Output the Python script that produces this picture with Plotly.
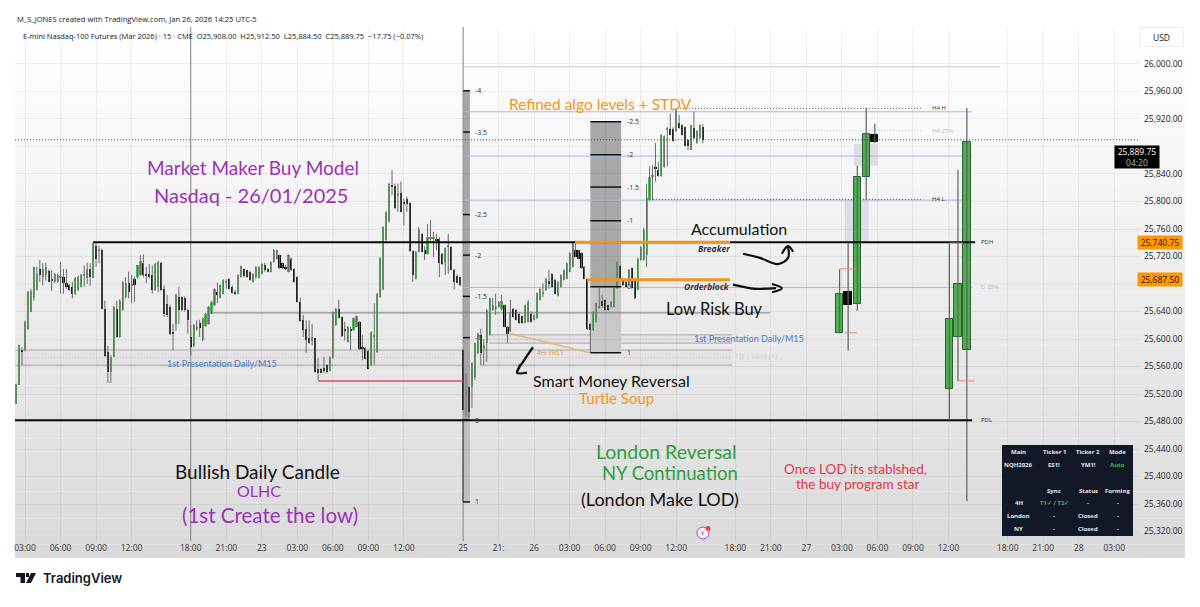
import plotly.graph_objects as go

# 15 minute bars
opens = [25506,25533,25584,25584,25615,25639,25660,25672,25702,25690,
    25693,25699,25686,25683,25683,25690,25690,25681,25678,25676,
    25665,25671,25676,25692,25689,25702,25689,25736,25728,25729,
    25644,25581,25552,25574,25644,25603,25642,25661,25681,25678,
    25688,25690,25693,25711,25694,25695,25693,25671,25675,25710,
    25673,25651,25647,25609,25622,25661,25661,25660,25642,25603,
    25590,25615,25623,25598,25619,25622,25637,25649,25668,25660,
    25666,25682,25687,25676,25669,25666,25690,25702,25700,25698,
    25683,25690,25689,25695,25707,25702,25698,25712,25717,25722,
    25710,25705,25698,25717,25702,25690,25654,25627,25614,25601,
    25597,25601,25557,25557,25558,25562,25554,25572,25620,25644,
    25632,25615,25596,25615,25613,25618,25625,25588,25587,25583,
    25562,25604,25581,25661,25672,25744,25770,25824,25822,25808,
    25812,25799,25804,25798,25728,25688,25727,25753,25729,25724,
    25746,25745,25745,25746,25724,25710,25735,25734,25701,25692,
    25690,25584,25520,25530,25530,25545,25579,25606,25586,25594,
    25606,25642,25645,25647,25643,25649,25618,25611,25644,25642,
    25637,25633,25624,25625,25637,25628,25630,25657,25665,25671,
    25685,25695,25686,25663,25676,25686,25688,25698,25705,25729,
    25729,25725,25705,25687,25622,25613,25625,25645,25656,25657,
    25649,25647,25647,25674,25706,25688,25683,25678,25703,25688,
    25672,25715,25715,25722,25802,25835,25850,25846,25837,25850,
    25905,25905,25905,25902,25914,25911,25908,25890,25875,25907,
    25885,25892,25908]
highs = [25535,25592,25588,25627,25670,25673,25705,25705,25715,25710,
    25711,25701,25700,25696,25695,25712,25702,25702,25680,25683,
    25690,25692,25695,25707,25711,25710,25739,25739,25736,25731,
    25656,25590,25576,25648,25656,25658,25684,25690,25698,25693,
    25690,25708,25722,25723,25705,25709,25707,25711,25714,25712,
    25678,25664,25650,25622,25666,25676,25662,25662,25644,25620,
    25622,25627,25628,25631,25638,25648,25655,25674,25682,25679,
    25687,25687,25688,25678,25671,25694,25707,25703,25701,25699,
    25696,25706,25706,25710,25711,25703,25713,25731,25730,25723,
    25711,25708,25723,25718,25703,25691,25660,25635,25627,25627,
    25622,25602,25572,25558,25574,25563,25575,25640,25645,25657,
    25633,25625,25619,25618,25631,25634,25626,25606,25588,25584,
    25611,25652,25667,25719,25764,25786,25827,25846,25826,25826,
    25829,25804,25807,25799,25729,25728,25763,25754,25735,25767,
    25773,25756,25753,25748,25725,25733,25753,25735,25702,25694,
    25691,25585,25550,25531,25566,25595,25609,25615,25600,25643,
    25660,25660,25666,25655,25664,25650,25619,25657,25645,25643,
    25638,25634,25650,25657,25640,25636,25668,25674,25681,25689,
    25700,25696,25687,25684,25694,25701,25711,25726,25740,25739,
    25730,25726,25706,25688,25623,25641,25653,25674,25664,25658,
    25650,25655,25675,25713,25707,25689,25686,25702,25704,25689,
    25718,25735,25762,25826,25851,25853,25885,25858,25898,25896,
    25909,25928,25908,25935,25926,25912,25909,25891,25912,25931,
    25904,25912,25912.5]
lows = [25506,25533,25562,25582,25613,25639,25656,25671,25683,25678,
    25685,25683,25670,25682,25682,25666,25666,25673,25670,25659,
    25664,25670,25675,25676,25680,25677,25689,25705,25710,25644,
    25574,25536,25536,25574,25602,25602,25641,25659,25659,25652,
    25654,25688,25692,25690,25681,25688,25666,25670,25668,25670,
    25632,25632,25606,25584,25612,25622,25640,25640,25608,25576,
    25588,25612,25603,25597,25618,25621,25636,25648,25652,25659,
    25665,25673,25672,25666,25664,25665,25689,25690,25689,25685,
    25682,25687,25688,25694,25698,25697,25697,25711,25716,25702,
    25702,25700,25697,25699,25682,25653,25625,25603,25580,25593,
    25591,25551,25540,25550,25550,25550,25553,25571,25619,25630,
    25603,25598,25595,25584,25612,25617,25584,25569,25570,25557,
    25561,25563,25580,25660,25672,25743,25770,25809,25789,25785,
    25784,25765,25785,25727,25683,25687,25726,25726,25715,25723,
    25743,25719,25729,25690,25708,25693,25695,25700,25672,25681,
    25677,25496,25487,25486,25500,25540,25578,25562,25562,25567,
    25605,25641,25635,25646,25641,25617,25594,25610,25631,25627,
    25622,25622,25623,25624,25624,25627,25629,25656,25661,25670,
    25673,25675,25665,25662,25675,25685,25687,25697,25704,25719,
    25716,25702,25687,25613,25580,25612,25624,25644,25645,25641,
    25641,25646,25646,25673,25685,25677,25675,25677,25673,25658,
    25671,25714,25714,25705,25801,25802,25829,25836,25836,25849,
    25851,25896,25887,25901,25906,25896,25880,25875,25875,25891,
    25884,25891,25884.5]
closes = [25535,25591,25582,25625,25668,25670,25705,25695,25693,25702,
    25705,25683,25685,25695,25693,25692,25681,25676,25671,25666,
    25689,25690,25693,25694,25702,25690,25739,25716,25730,25644,
    25576,25552,25574,25647,25603,25656,25683,25681,25668,25680,
    25678,25707,25714,25693,25692,25690,25671,25709,25712,25671,
    25637,25635,25607,25608,25664,25642,25642,25642,25627,25588,
    25620,25617,25616,25630,25637,25647,25654,25673,25664,25678,
    25686,25683,25673,25667,25665,25693,25706,25691,25690,25686,
    25695,25705,25705,25709,25700,25698,25712,25730,25729,25703,
    25703,25703,25722,25700,25683,25654,25626,25613,25598,25594,
    25603,25552,25550,25551,25553,25552,25574,25639,25644,25631,
    25604,25613,25618,25612,25630,25633,25585,25586,25571,25557,
    25610,25606,25666,25718,25763,25785,25826,25821,25790,25811,
    25785,25797,25797,25728,25693,25727,25760,25727,25723,25748,
    25748,25748,25743,25710,25709,25732,25736,25701,25683,25682,
    25678,25497,25523,25494,25565,25594,25608,25579,25592,25642,
    25659,25649,25647,25654,25656,25618,25608,25640,25632,25628,
    25623,25623,25649,25654,25625,25635,25667,25673,25668,25688,
    25680,25676,25666,25683,25693,25700,25710,25725,25739,25720,
    25717,25703,25688,25614,25613,25640,25652,25648,25648,25642,
    25642,25654,25674,25712,25686,25678,25676,25701,25674,25659,
    25717,25734,25758,25805,25836,25838,25848,25837,25897,25895,
    25906,25897,25888,25935,25907,25897,25881,25880,25911,25892,
    25903,25911,25889.75]
first_bar = -3

# higher timeframe candles drawn to the right of price
htf_bars = [275.2, 278.1, 281.2, 284.2, 287.1, 312.3, 315.2, 318.2]
htf_opens = [25609, 25669, 25651, 25836, 25897, 25528, 25603, 25584]
htf_highs = [25701, 25739, 25852, 25936, 25913, 25739, 25846, 25936]
htf_lows = [25609, 25583, 25641, 25802, 25885, 25484, 25539, 25364]
htf_closes = [25666, 25649, 25836, 25898, 25887, 25629, 25680, 25887]

tick_bars = [0, 12, 24, 36, 56, 68, 80, 92, 104, 116, 128, 148, 160, 172, 184, 196, 208, 220,
             240, 252, 264, 276, 288, 300, 312, 332, 344, 356, 368]
tick_labels = ["03:00", "06:00", "09:00", "12:00", "18:00", "21:00", "23", "03:00", "06:00", "09:00", "12:00",
               "25", "21:", "26", "03:00", "06:00", "09:00", "12:00", "18:00", "21:00", "27", "03:00", "06:00",
               "09:00", "12:00", "18:00", "21:00", "28", "03:00"]
price_ticks = [26000, 25960, 25920, 25840, 25800, 25760, 25720, 25640, 25600, 25560, 25520, 25480,
               25440, 25400, 25360, 25320]
hidden_grid = [25880, 25680]  # labels sit under the price tags

pdh = 25740.75
pdl = 25482
last_price = 25889.75
orderblock = 25687.5
fib_left_labels = ["-4", "-3.5", "-2.5", "-2", "-1.5", "-1", "0", "1"]
fib_left_prices = [25961, 25901, 25781, 25722, 25662, 25602, 25482, 25363]
fib_right_labels = ["-2.5", "-2", "-1.5", "-1", "0", "1"]
fib_right_prices = [25916, 25868, 25821, 25772, 25676, 25580]
blue_levels = [25930.5, 25866, 25802, 25675]

table_rows = [
    ["Main", "Ticker 1", "Ticker 2", "Mode"],
    ["NQH2026", "ES1!", "YM1!", "Auto"],
    ["", "Sync", "Status", "Forming"],
    ["4H", "T1✓ / T2✓", "-", "-"],
    ["London", "-", "Closed", "-"],
    ["NY", "-", "Closed", "-"],
]

HAND = "Lato"
UI = "Open Sans"
PURPLE = "#9a33b5"
ORANGE = "#f0961e"
GREEN = "#55b45c"
DOTS = "1px,2px"

LEFT, RIGHT, TOP, BOTTOM = 15, 1140, 27, 541


def paper_x(px):
    return (px - LEFT) / (RIGHT - LEFT)


def paper_y(py):
    return (BOTTOM - py) / (BOTTOM - TOP)


def hline(price, x0, x1, color, width=1, dash="solid", layer="above"):
    return dict(type="line", x0=x0, x1=x1, y0=price, y1=price, xref="x", yref="y", layer=layer,
                line=dict(color=color, width=width, dash=dash))


def band(y0, y1, x0, x1, fill, layer="below"):
    return dict(type="rect", x0=x0, x1=x1, y0=y0, y1=y1, xref="x", yref="y", layer=layer,
                fillcolor=fill, line=dict(width=0))


def note(text, x, y, size, color="#111111", anchor="center", font=HAND, **kw):
    return dict(text=text, x=x, y=y, xref="x", yref="y", showarrow=False, xanchor=anchor, yanchor="middle",
                font=dict(size=size, color=color, family=font), **kw)


def paper_note(text, px, py, size, color="#131722", anchor="center", font=UI, **kw):
    return dict(text=text, x=paper_x(px), y=paper_y(py), xref="paper", yref="paper", showarrow=False,
                xanchor=anchor, yanchor="middle", font=dict(size=size, color=color, family=font), **kw)


bars = list(range(first_bar, first_bar + len(opens)))

wick_x, wick_y = [], []
for b, h, l in zip(bars, highs, lows):
    wick_x += [b, b, None]
    wick_y += [l, h, None]

htf_wick_x, htf_wick_y = [], []
for b, h, l in zip(htf_bars, htf_highs, htf_lows):
    htf_wick_x += [b, b, None]
    htf_wick_y += [l, h, None]

fig = go.Figure()
fig.add_trace(go.Scatter(x=wick_x, y=wick_y, mode="lines", line=dict(color="#6a6a6a", width=1), hoverinfo="skip"))
fig.add_trace(go.Bar(x=bars, y=[max(abs(c - o), 1) for o, c in zip(opens, closes)],
                     base=[min(o, c) for o, c in zip(opens, closes)], width=0.72,
                     marker=dict(color=[GREEN if c >= o else "#0c0c0c" for o, c in zip(opens, closes)], line=dict(width=0)),
                     hoverinfo="skip"))
fig.add_trace(go.Scatter(x=htf_wick_x, y=htf_wick_y, mode="lines", line=dict(color="#5f5f5f", width=1.2), hoverinfo="skip"))
fig.add_trace(go.Bar(x=htf_bars, y=[abs(c - o) for o, c in zip(htf_opens, htf_closes)],
                     base=[min(o, c) for o, c in zip(htf_opens, htf_closes)], width=2.5,
                     marker=dict(color=["#4caf50" if c >= o else "#0c0c0c" for o, c in zip(htf_opens, htf_closes)],
                                 line=dict(width=1, color=["#2c5f32" if c >= o else "#000000" for o, c in zip(htf_opens, htf_closes)])),
                     hoverinfo="skip"))

# hand drawn arrows
arrows = [
    ([171.6, 168.6, 166.2, 169.6], [25588, 25569, 25551, 25551]),
    ([166.2, 167.3], [25551, 25563]),
    ([242.6, 248.3, 254.4, 257.8, 257.8], [25724, 25718, 25709, 25718, 25734]),
    ([255.7, 257.8, 259.5], [25724, 25735, 25727]),
    ([239.2, 246.6, 253.7], [25679, 25673, 25674]),
    ([252.4, 255.7, 252.4], [25680, 25674, 25668]),
]
for ax_, ay_ in arrows:
    fig.add_trace(go.Scatter(x=ax_, y=ay_, mode="lines", line=dict(color="#111111", width=2.2, shape="spline"), hoverinfo="skip"))

shapes = []
# chart panel gradient, white at the top to light grey at the bottom
steps = 40
for k in range(steps):
    t = k / (steps - 1)
    v = round(255 - 37 * t)
    y0 = 27 + k * (558 - 27) / steps
    y1 = 27 + (k + 1) * (558 - 27) / steps
    shapes.append(dict(type="rect", xref="paper", yref="paper", layer="below", x0=0, x1=paper_x(1185),
                       y0=paper_y(y1), y1=paper_y(y0), fillcolor=f"rgb({v},{v},{v})", line=dict(width=0)))

for p in hidden_grid:
    shapes.append(hline(p, -3.38, 376.7, "rgba(0,0,0,0.05)", layer="below"))

# session separators
for b in [56, 148]:
    shapes.append(dict(type="line", x0=b, x1=b, y0=0, y1=1, xref="x", yref="paper", layer="below",
                       line=dict(color="#8a8a8a", width=1)))

# 1st presentation zones
zones = [(25562, 25584, -3.4, 148), (25562, 25584, 153.7, 238.9), (25594, 25606, 157, 238.9)]
for z0, z1, x0, x1 in zones:
    shapes.append(band(z0, z1, x0, x1, "rgba(205,170,205,0.11)"))
    shapes.append(hline(z0, x0, x1, "#a9a9a9", layer="below"))
    shapes.append(hline(z1, x0, x1, "#a9a9a9", layer="below"))
    shapes.append(hline((z0 + z1) / 2, x0, x1, "#c3c3c3", dash=DOTS, layer="below"))

# fib columns
shapes.append(band(fib_left_prices[6], fib_left_prices[0], 148, 150.3, "#a6a6a6"))
shapes.append(band(fib_left_prices[7], fib_left_prices[6], 148, 150.3, "#bfbfbf"))
shapes.append(dict(type="line", x0=148, x1=148, y0=fib_left_prices[7], y1=fib_left_prices[6], xref="x", yref="y",
                   layer="below", line=dict(color="#333333", width=1)))
shapes.append(band(fib_right_prices[4], fib_right_prices[0], 191, 201.4, "#a8a8a8"))
shapes.append(band(fib_right_prices[5], fib_right_prices[4], 191, 201.4, "#c8c8c8"))
for p in fib_left_prices:
    shapes.append(hline(p, 148, 150.3, "#111111", width=1.5))
for p in fib_right_prices:
    shapes.append(hline(p, 191, 201.4, "#111111", width=1.5))

# HTF boxes
shapes.append(band(25740, 25802, 277, 285, "#dcdee1"))
shapes.append(band(25852, 25884, 280, 288, "#dcdee1"))

# levels
shapes.append(hline(25996, 148, 329.4, "#c8c8e4", layer="below"))
for p in blue_levels:
    shapes.append(hline(p, 148, 320, "#aab8e6", layer="below"))
shapes.append(hline(25935.5, 220.3, 302.7, "#555555", dash=DOTS, layer="below"))
shapes.append(hline(25903, 226.4, 302.7, "#c9d0e8", dash=DOTS, layer="below"))
shapes.append(hline(25803, 212.2, 302.7, "#555555", dash=DOTS, layer="below"))
shapes.append(hline(last_price, -3.4, 376.7, "#444444", dash=DOTS))
shapes.append(hline(25638, 63.2, 251.7, "#7d7d7d", layer="below"))
shapes.append(hline(pdh, 23, 321, "#0a0a0a", width=2))
shapes.append(hline(pdl, -3.4, 320, "#0a0a0a", width=2))
shapes.append(hline(pdh, 185.8, 238.2, ORANGE, width=3))
shapes.append(hline(orderblock - 1.5, 189.9, 238.2, ORANGE, width=3))
shapes.append(hline(25539, 99, 148, "#e8455a", width=1.5))
for p, x0, x1 in [(25702, 275.2, 281), (25609, 277, 281), (25739.5, 312.3, 317), (25539, 315.2, 321)]:
    shapes.append(hline(p, x0, x1, "#e58a8a"))
shapes.append(dict(type="line", x0=163.9, x1=190.9, y0=25608, y1=25580, xref="x", yref="y",
                   line=dict(color="#e8b678", width=1.5)))

# stats table
shapes.append(dict(type="rect", xref="paper", yref="paper", x0=paper_x(1002), x1=paper_x(1133), y0=paper_y(536), y1=paper_y(445),
                   fillcolor="#131826", line=dict(width=0)))

# TradingView logo
logo_paths = [
    [(16, 573), (25, 573), (25, 583), (20.5, 583), (20.5, 577), (16, 577)],
    [(31, 573), (36, 573), (31, 583), (26, 583)],
    [(26, 573), (29, 573), (29, 577), (26, 577)],
]
for pts in logo_paths:
    path = "M " + " L ".join(f"{paper_x(x):.5f} {paper_y(y):.5f}" for x, y in pts) + " Z"
    shapes.append(dict(type="path", xref="paper", yref="paper", path=path, fillcolor="#131722", line=dict(width=0)))

# lightning badge with its red dot
shapes.append(dict(type="circle", xref="paper", yref="paper", x0=paper_x(697), x1=paper_x(709),
                   y0=paper_y(539), y1=paper_y(527), fillcolor="#f4f0f6", line=dict(width=1, color="#9a4fc0")))
shapes.append(dict(type="circle", xref="paper", yref="paper", x0=paper_x(705.5), x1=paper_x(710.5),
                   y0=paper_y(531), y1=paper_y(526), fillcolor="#e8455a", line=dict(width=0)))

annotations = [
    note("Market Maker Buy Model", 77, 25850, 19, PURPLE),
    note("Nasdaq - 26/01/2025", 76.4, 25809.5, 20, PURPLE),
    note("Refined algo levels + STDV", 194.3, 25942, 15.5, ORANGE),
    note("Accumulation", 241.2, 25761, 16),
    note("<b><i>Breaker</i></b>", 232.8, 25731, 8.5, "#333333", font=UI),
    note("<b><i>Orderblock</i></b>", 230.4, 25677, 8.5, "#333333", font=UI),
    note("Low Risk Buy", 233, 25644, 16.5),
    note("Smart Money Reversal", 198, 25539, 16),
    note("Turtle Soup", 199.7, 25514, 15, ORANGE),
    note("London Reversal", 216.6, 25437, 19.5, "#2e9e3f"),
    note("NY Continuation", 218, 25405, 18.5, "#2e9e3f"),
    note("(London Make LOD)", 214.5, 25367, 18),
    note("Bullish Daily Candle", 78.4, 25407, 19),
    note("OLHC", 79, 25379, 16, PURPLE),
    note("(1st Create the low)", 82.8, 25344, 20.5, PURPLE),
    note("Once LOD its stablshed,", 280.7, 25411, 13.5, "#e0364c"),
    note("the buy program star", 281.4, 25389, 13.5, "#e0364c"),
    note("1st Presentation Daily/M15", 66.6, 25565, 9, "#3f80c4"),
    note("1st Presentation Daily/M15", 244.6, 25601, 9, "#3f80c4"),
    note("4H YRL1", 177.7, 25580, 7, ORANGE, font=UI),
    note("1D | MH9 (1)", 247, 25575, 7, "#c9c9c9", font=UI),
    note("H4 H", 305.7, 25935.5, 6, "#333333", "left", UI),
    note("H4 25%", 305.7, 25903, 6, "#b4c2ec", "left", UI),
    note("H4 L", 305.7, 25803, 6, "#333333", "left", UI),
    note("PDH", 322.3, pdh, 6, "#333333", "left", UI),
    note("D 25%", 322.3, 25675, 6, "#b4c2ec", "left", UI),
    note("PDL", 322.3, pdl, 6, "#333333", "left", UI),
    paper_note("M_S_JONES created with TradingView.com, Jan 26, 2026 14:25 UTC-5", 15, 19, 7.6, anchor="left"),
    paper_note("E-mini Nasdaq-100 Futures (Mar 2026) · 15 · CME  O25,908.00  H25,912.50  L25,884.50  C25,889.75  −17.75 (−0.07%)",
               21, 36, 7.5, anchor="left"),
    paper_note("USD", 1161, 37, 8.5, bgcolor="#ffffff", width=41, height=16, bordercolor="#eeeeee", borderwidth=1),
    dict(text="25,889.75<br><span style='color:#b8b8b8'>04:20</span>", x=paper_x(1160), y=paper_y(145), xref="paper", yref="paper",
         showarrow=False, bgcolor="#000000", width=42, height=20, font=dict(size=8.5, color="#ffffff", family=UI)),
    paper_note("25,740.75", 1160, 242.5, 8.5, bgcolor="#ff9800", width=42, height=11),
    paper_note("25,687.50", 1160, 279, 8.5, bgcolor="#ff9800", width=42, height=11),
    paper_note("TradingView", 41, 578, 13, anchor="left", font="Inter"),
    paper_note("⚡", 702.7, 533, 7.5, "#9a33b5", font="DejaVu Sans"),
]
annotations[-2]["font"]["weight"] = 600

# level labels next to the fib columns
for lab, p in zip(fib_left_labels, fib_left_prices):
    annotations.append(note(lab, 151.4, p, 7, "#333333", "left", UI))
for lab, p in zip(fib_right_labels, fib_right_prices):
    annotations.append(note(lab, 202.7, p, 7, "#333333", "left", UI))

# table text
col_px = [1018.7, 1054, 1088.3, 1117.7]
row_py = [451.7, 465, 490.7, 503.3, 516.3, 529]
for row, py in zip(table_rows, row_py):
    for cell, px in zip(row, col_px):
        if not cell:
            continue
        color = "#4caf50" if cell == "Auto" or cell.startswith("T1") else "#e8e8e8"
        annotations.append(paper_note(f"<b>{cell}</b>", px, py, 6, color))

fig.update_layout(
    width=1200, height=607,
    margin=dict(l=LEFT, r=1200 - RIGHT, t=TOP, b=607 - BOTTOM),
    paper_bgcolor="#ffffff", plot_bgcolor="rgba(0,0,0,0)",
    showlegend=False, barmode="overlay", bargap=0, hovermode=False,
    shapes=shapes, annotations=annotations,
    xaxis=dict(range=[-3.38, 376.7], tickvals=tick_bars, ticktext=tick_labels, showgrid=True,
               gridcolor="rgba(0,0,0,0.05)", zeroline=False, showline=False, ticks="",
               tickfont=dict(size=8.5, color="#333333", family=UI), tickangle=0),
    yaxis=dict(range=[25306.2, 26053.8], side="right", tickvals=price_ticks, tickformat=",.2f", showgrid=True,
               gridcolor="rgba(0,0,0,0.05)", zeroline=False, showline=False, ticks="", ticklabelstandoff=3,
               tickfont=dict(size=8.5, color="#222222", family=UI)),
)

fig.write_html("out.html", config={"displayModeBar": False}, post_script="document.body.style.margin='0';")
